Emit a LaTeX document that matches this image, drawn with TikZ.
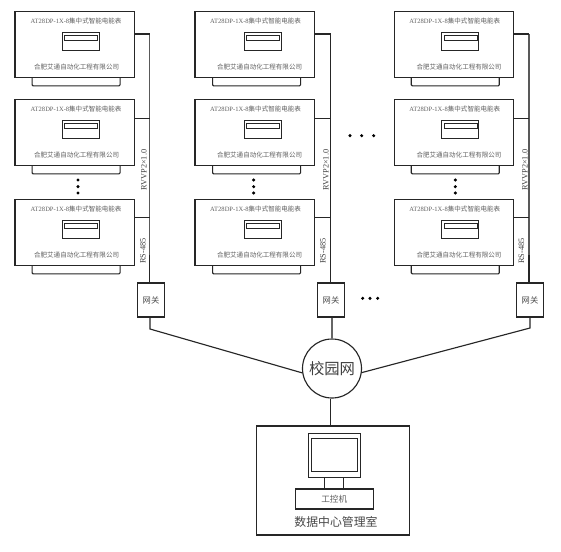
\documentclass[tikz,border=0pt]{standalone}
\usepackage{fontspec}
\newfontfamily\cjk{Noto Sans CJK SC}
\newfontfamily\ser{Liberation Serif}
\tikzset{x=0.75pt,y=-0.75pt,
 line/.style={draw=black!85,line width=0.85pt},
 thin line/.style={draw=black!80,line width=0.7pt},
 bus/.style={draw=black!65,line width=1.1pt},
 busdark/.style={draw=black!85,line width=1.1pt},
 meter/.style={line,minimum width=89.5pt,minimum height=49.8pt,inner sep=0pt},
 lab/.style={font=\cjk\fontsize{4.9pt}{5.5pt}\selectfont,text=black!62,inner sep=0pt},
 rot/.style={font=\ser\fontsize{6.2pt}{7pt}\selectfont,text=black!75,rotate=90,inner sep=0pt},
 gate/.style={line,minimum width=19.7pt,minimum height=25.5pt,inner sep=0pt,font=\cjk\fontsize{6.2pt}{7pt}\selectfont,text=black!70},
 dotm/.style={circle,fill=black,inner sep=0pt,minimum size=2.6pt}}
% #1 name, #2 box x, #3 box y, #4 title dx, #5 company dx, #6 display dx, #7 foot dx
\newcommand{\metergroup}[7]{%
 \node[meter] (m#1) at (#2,#3) {};
 \node[lab] (t#1) at (#2+#4,#3-23) {{\ser AT28DP-1X-8}集中式智能电能表};
 \node[lab] (c#1) at (#2+#5,#3+23) {合肥艾通自动化工程有限公司};
 \node[line,minimum width=27.75pt,minimum height=14pt,inner sep=0pt] (d#1) at (#2+#6,#3-3) {};
 \node[line,minimum width=24.75pt,minimum height=3.75pt,inner sep=0pt] (e#1) at (#2+#6+0.5,#3-6.5) {};
 \coordinate (fa#1) at (#2+#7-44,#3+33.2);
 \coordinate (fb#1) at (#2+#7+44,#3+33.2);
 \draw[line,rounded corners=0.8pt] (fa#1) -- ++(0,8.3) -- ++(88,0) -- (fb#1);
}
\begin{document}
\begin{tikzpicture}
\useasboundingbox (0,0) rectangle (561,551);
\fill[white] (0,0) rectangle (561,551);
% left column
\foreach \n/\y in {a/44.4,b/132.4,c/232.4}{\metergroup{\n}{74.6}{\y}{1.5}{2}{6}{1.5}}
% middle column
\foreach \n/\y in {d/44.4,e/132.4,f/232.4}{\metergroup{\n}{254.6}{\y}{1}{5}{8}{2}}
% right column
\foreach \n/\y in {g/44.4,h/132.4,i/232.4}{\metergroup{\n}{453.8}{\y}{1}{5.2}{6.5}{1.5}}
% gateways
\node[gate] (ga) at (151,300) {网关};
\node[gate] (gb) at (331,300) {网关};
\node[gate] (gc) at (530,300) {网关};
% buses
\coordinate (ba) at (149.5,34); \coordinate (bb) at (330.5,34); \coordinate (bc) at (529,34);
\coordinate (ta) at (149.5,255); \coordinate (tc) at (529,255);
\draw[bus] (ba) -- (ta);
\draw[busdark] (ta) -- (ga.north -| ba);
\draw[busdark] (bb) -- (gb.north -| bb);
\draw[bus] (bc) -- (tc);
\draw[busdark] (tc) -- (gc.north -| bc);
\foreach \m/\y/\b in {a/34/ba,b/118.5/ba,c/217.5/ba,d/34/bb,e/118.5/bb,f/217.5/bb,g/34/bc,h/118.5/bc,i/217.5/bc}{
  \coordinate (s) at (\b |- 0,\y);
  \draw[line] (m\m.east |- s) -- (s);
}
% bus labels
\foreach \x/\n in {144/1,326/2,525/3}{
  \node[rot] (rv\n) at (\x,170) {RVVP2×1.0};
}
\foreach \x/\n in {143/1,323/2,521.5/3}{
  \node[rot] (rs\n) at (\x,251) {RS-485};
}
% vertical dots
\foreach \x/\n in {78/1,253.7/2,455.3/3}{
  \node[dotm] (v\n a) at (\x,180) {};
  \node[dotm] (v\n b) at (\x,186.7) {};
  \node[dotm] (v\n c) at (\x,193) {};
}
% horizontal dots
\foreach \x/\n in {350/1,361.7/2,373.7/3}{ \node[dotm] (h\n) at (\x,135.7) {}; }
\foreach \x/\n in {362.7/1,370/2,377.7/3}{ \node[dotm] (k\n) at (\x,298.3) {}; }
% campus net
\node[circle,line,minimum size=44.25pt,inner sep=0pt,font=\cjk\fontsize{11.5pt}{12pt}\selectfont,text=black!75] (net) at (332,368.5) {校园网};
\coordinate (la) at (150,329); \coordinate (lc) at (530,328);
\coordinate (na) at (302.6,373); \coordinate (nc) at (361.4,372.7);
\draw[line] (ga.south -| la) -- (la) -- (na);
\draw[line] (gc.south -| lc) -- (lc) -- (nc);
\draw[line,draw=black!60,line width=1.1pt] (gb.south -| net.north) -- (net.north);
% room
\node[line,minimum width=114.5pt,minimum height=81.75pt,inner sep=0pt] (room) at (333,480.5) {};
\draw[line] (net.south -| 330.3,0) -- (room.north -| 330.3,0);
\node[line,minimum width=39.3pt,minimum height=33pt,inner sep=0pt] (mon) at (334.5,455.7) {};
\node[line,minimum width=34.5pt,minimum height=25pt,inner sep=0pt] (scr) at (334.3,455) {};
\node[line,minimum width=58.5pt,minimum height=15pt,inner sep=0pt,font=\cjk\fontsize{6.5pt}{7pt}\selectfont,text=black!62] (pc) at (334.3,499) {工控机};
\draw[line] (mon.south -| 324.3,0) -- (pc.north -| 324.3,0);
\draw[line] (mon.south -| 343.7,0) -- (pc.north -| 343.7,0);
\node[inner sep=0pt,font=\cjk\fontsize{8.9pt}{10pt}\selectfont,text=black!72] (rl) at (336,521.7) {数据中心管理室};
\end{tikzpicture}
\end{document}
